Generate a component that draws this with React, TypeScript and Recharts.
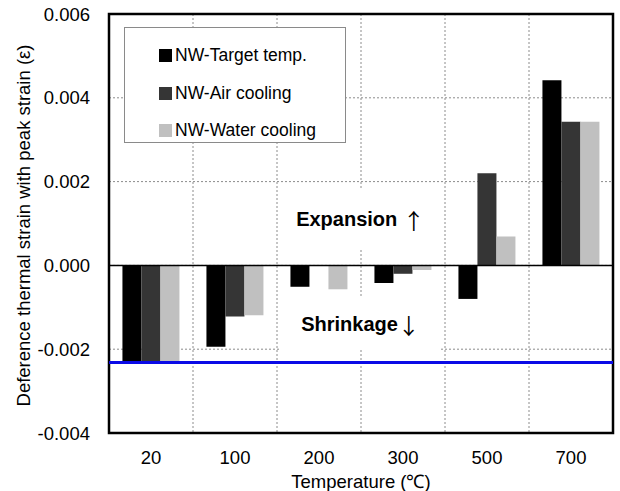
import React from 'react'
import {
  BarChart,
  Bar,
  XAxis,
  YAxis,
  CartesianGrid,
  ReferenceLine,
  ReferenceArea,
  Legend,
} from 'recharts'

// 温度别 열변형 차이 (peak strain 기준)
const temperatures = ['20', '100', '200', '300', '500', '700']
const targetTemp = [-0.00232, -0.00194, -0.00051, -0.00042, -0.0008, 0.00442]
const airCooling = [-0.00232, -0.00122, 0, -0.0002, 0.0022, 0.00343]
const waterCooling = [-0.00232, -0.00119, -0.00057, -0.00011, 0.00069, 0.00343]

const yTicks = [-0.004, -0.002, 0, 0.002, 0.004, 0.006]
const shrinkLimit = -0.00232

const SERIES = [
  { key: 'target', name: 'NW-Target temp.', color: '#000000' },
  { key: 'air', name: 'NW-Air cooling', color: '#353535' },
  { key: 'water', name: 'NW-Water cooling', color: '#c0c0c0' },
]

const data = temperatures.map((t, i) => ({
  temp: t,
  target: targetTemp[i],
  air: airCooling[i],
  water: waterCooling[i],
}))

const FONT = '"Liberation Sans", Arial, sans-serif'
const ARROW_FONT = '"Noto Sans CJK JP", sans-serif'

// 계열 순서대로 표시 (기본 정렬 안 씀)
function LegendBox() {
  return (
    <div
      style={{
        width: 222,
        height: 116,
        border: '1px solid #8a8a8a',
        background: '#fff',
        boxSizing: 'border-box',
        paddingTop: 9,
        fontFamily: FONT,
        fontSize: 17.5,
        color: '#000',
      }}
    >
      {SERIES.map((s) => (
        <div
          key={s.key}
          style={{ display: 'flex', alignItems: 'center', height: 37.5, paddingLeft: 34 }}
        >
          <span
            style={{ width: 13, height: 13, background: s.color, marginRight: 3, display: 'inline-block' }}
          />
          <span>{s.name}</span>
        </div>
      ))}
    </div>
  )
}

// 경계선 사이 흰 바탕 주석
const noteStyle: React.CSSProperties = {
  position: 'absolute',
  left: 280,
  width: 161,
  background: '#fff',
  display: 'flex',
  alignItems: 'center',
  justifyContent: 'center',
  fontFamily: FONT,
  fontWeight: 'bold',
  fontSize: 20,
  color: '#000',
}

const arrowStyle: React.CSSProperties = {
  fontFamily: ARROW_FONT,
  fontWeight: 'normal',
  fontSize: 22,
}

export default function App() {
  return (
    <div style={{ position: 'absolute', left: 0, top: 0, width: 620, height: 491, background: '#fff' }}>
      <BarChart
        width={620}
        height={491}
        data={data}
        margin={{ top: 14, right: 7, left: 0, bottom: 0 }}
        barCategoryGap="16%"
        barGap={0}
        style={{ fontFamily: FONT }}
      >
        <CartesianGrid
          stroke="#8c8c8c"
          strokeDasharray="2 2"
          verticalCoordinatesGenerator={({ offset }: any) => {
            const w = offset.width / temperatures.length
            return temperatures.slice(1).map((_, i) => offset.left + (i + 1) * w)
          }}
        />
        <XAxis
          dataKey="temp"
          height={58}
          axisLine={false}
          tickLine={false}
          tickSize={6}
          tickMargin={12}
          tick={{ fill: '#000', fontSize: 18.5 }}
          label={{
            value: 'Temperature (℃)',
            position: 'insideBottom',
            offset: 3,
            fill: '#000',
            fontSize: 18.5,
          }}
        />
        <YAxis
          width={109}
          domain={[-0.004, 0.006]}
          ticks={yTicks}
          allowDataOverflow
          axisLine={false}
          tickLine={false}
          tickSize={6}
          tickMargin={13}
          tickFormatter={(v: number) => v.toFixed(3)}
          tick={{ fill: '#000', fontSize: 18.5 }}
          label={{
            value: 'Deference thermal strain with peak strain (ε)',
            angle: -90,
            position: 'center',
            dx: -31,
            dy: 2,
            fill: '#000',
            fontSize: 18.5,
          }}
        />
        {SERIES.map((s) => (
          <Bar key={s.key} dataKey={s.key} name={s.name} fill={s.color} isAnimationActive={false} />
        ))}
        <ReferenceLine y={0} stroke="#000" strokeWidth={1.5} />
        <ReferenceLine y={shrinkLimit} stroke="#0a0ae6" strokeWidth={3} />
        <ReferenceArea y1={-0.004} y2={0.006} fill="none" stroke="#000" strokeWidth={2.5} />
        <Legend
          layout="vertical"
          align="center"
          verticalAlign="middle"
          content={<LegendBox />}
          wrapperStyle={{ left: 124, top: 27, width: 222, height: 116 }}
        />
      </BarChart>
      <div style={{ ...noteStyle, top: 188, height: 62 }}>
        Expansion&nbsp;<span style={arrowStyle}>↑</span>
      </div>
      <div style={{ ...noteStyle, top: 298, height: 52 }}>
        Shrinkage<span style={arrowStyle}>↓</span>
      </div>
    </div>
  )
}
